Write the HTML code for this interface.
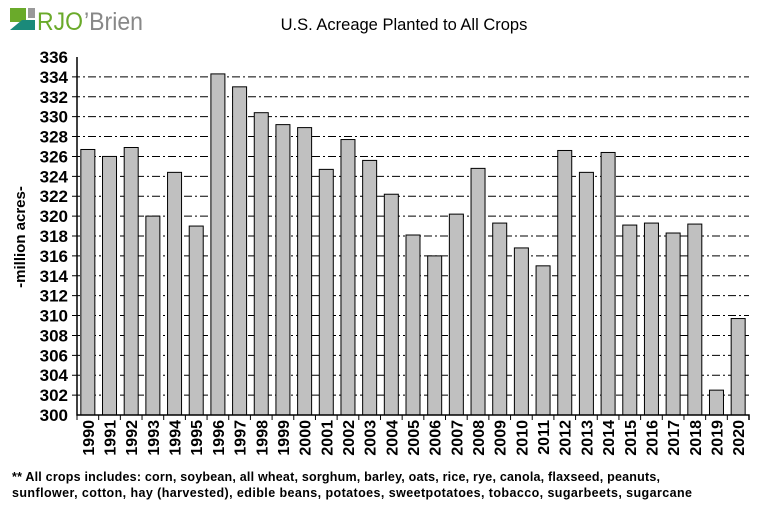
<!DOCTYPE html>
<html><head><meta charset="utf-8"><style>
body{margin:0;background:#fff;width:763px;height:516px;overflow:hidden;font-family:"Liberation Sans",Arial,sans-serif}
</style></head><body>
<svg width="763" height="516" xmlns="http://www.w3.org/2000/svg" font-family="Liberation Sans, Arial, sans-serif">
<g>
<rect x="10" y="8" width="16" height="14" fill="#6aaa2a"/>
<rect x="28" y="8" width="7" height="10" fill="#999"/>
<polygon points="10,30 22,20 35,20 35,30" fill="#1a8a7a"/>
<text x="37" y="30" font-size="25" fill="#6aaa2a" textLength="46" lengthAdjust="spacingAndGlyphs">RJO</text>
<text x="84" y="30" font-size="25" fill="#888" textLength="59" lengthAdjust="spacingAndGlyphs">’Brien</text>
</g>
<text x="404" y="30" text-anchor="middle" font-size="16.5">U.S. Acreage Planted to All Crops</text>
<text transform="translate(25,237) rotate(-90)" text-anchor="middle" font-size="15" font-weight="bold">-million acres-</text>
<g id="grid"></g><g id="bars"></g><g id="axes"></g>
<text x="12" y="481" font-size="12.5" font-weight="bold" textLength="648" lengthAdjust="spacing">** All crops includes: corn, soybean,  all wheat, sorghum,  barley, oats, rice, rye, canola, flaxseed, peanuts,</text>
<text x="12" y="497" font-size="12.5" font-weight="bold" textLength="680" lengthAdjust="spacing">sunflower, cotton,  hay (harvested),  edible beans, potatoes, sweetpotatoes, tobacco, sugarbeets, sugarcane</text>
</svg>
<script>
const years=[1990,1991,1992,1993,1994,1995,1996,1997,1998,1999,2000,2001,2002,2003,2004,2005,2006,2007,2008,2009,2010,2011,2012,2013,2014,2015,2016,2017,2018,2019,2020];
const acres=[326.7,326.0,326.9,320.0,324.4,319.0,334.3,333.0,330.4,329.2,328.9,324.7,327.7,325.6,322.2,318.1,316.0,320.2,324.8,319.3,316.8,315.0,326.6,324.4,326.4,319.1,319.3,318.3,319.2,302.5,309.7];
const yTicks=[300,302,304,306,308,310,312,314,316,318,320,322,324,326,328,330,332,334,336];
const NS="http://www.w3.org/2000/svg";
const L=77,R=749,T=57,B=415,ymin=300,ymax=336;
const y=v=>B-(v-ymin)/(ymax-ymin)*(B-T);
const bw=(R-L)/years.length;
const x=i=>L+i*bw;
function mk(tag,attrs,parent){const e=document.createElementNS(NS,tag);for(const k in attrs)e.setAttribute(k,attrs[k]);document.getElementById(parent).appendChild(e);return e;}
yTicks.forEach(t=>{
 if(t>ymin&&t<ymax){const g=mk('line',{x1:L-5,x2:R,y1:y(t),y2:y(t),stroke:'#000','stroke-width':1,'stroke-dasharray':'8,3,2,3'},'grid');
 
 }
 const tx=mk('text',{x:L-9,y:y(t)+6,'text-anchor':'end','font-size':17,'font-weight':'bold'},'axes');
 tx.textContent=t;
 
 
});
acres.forEach((v,i)=>{
 const r=mk('rect',{x:x(i)+(bw-14)/2,y:y(v),width:14,height:B-y(v),fill:'#c0c0c0',stroke:'#000','stroke-width':1},'bars');
 
 
 const tk=mk('line',{x1:x(i),x2:x(i),y1:B,y2:B+5,stroke:'#000'},'axes');
 
 
 const cx=x(i)+bw/2+6;
 const tx=mk('text',{transform:`translate(${cx},420) rotate(-90)`,'text-anchor':'end','font-size':16,'font-weight':'bold'},'axes');
 tx.textContent=years[i];
 
 
});
const ax=mk('path',{d:`M${L},${T} V${B} H${R} V${B+5}`,fill:'none',stroke:'#000','stroke-width':1.5},'axes');


</script>
</body></html>
